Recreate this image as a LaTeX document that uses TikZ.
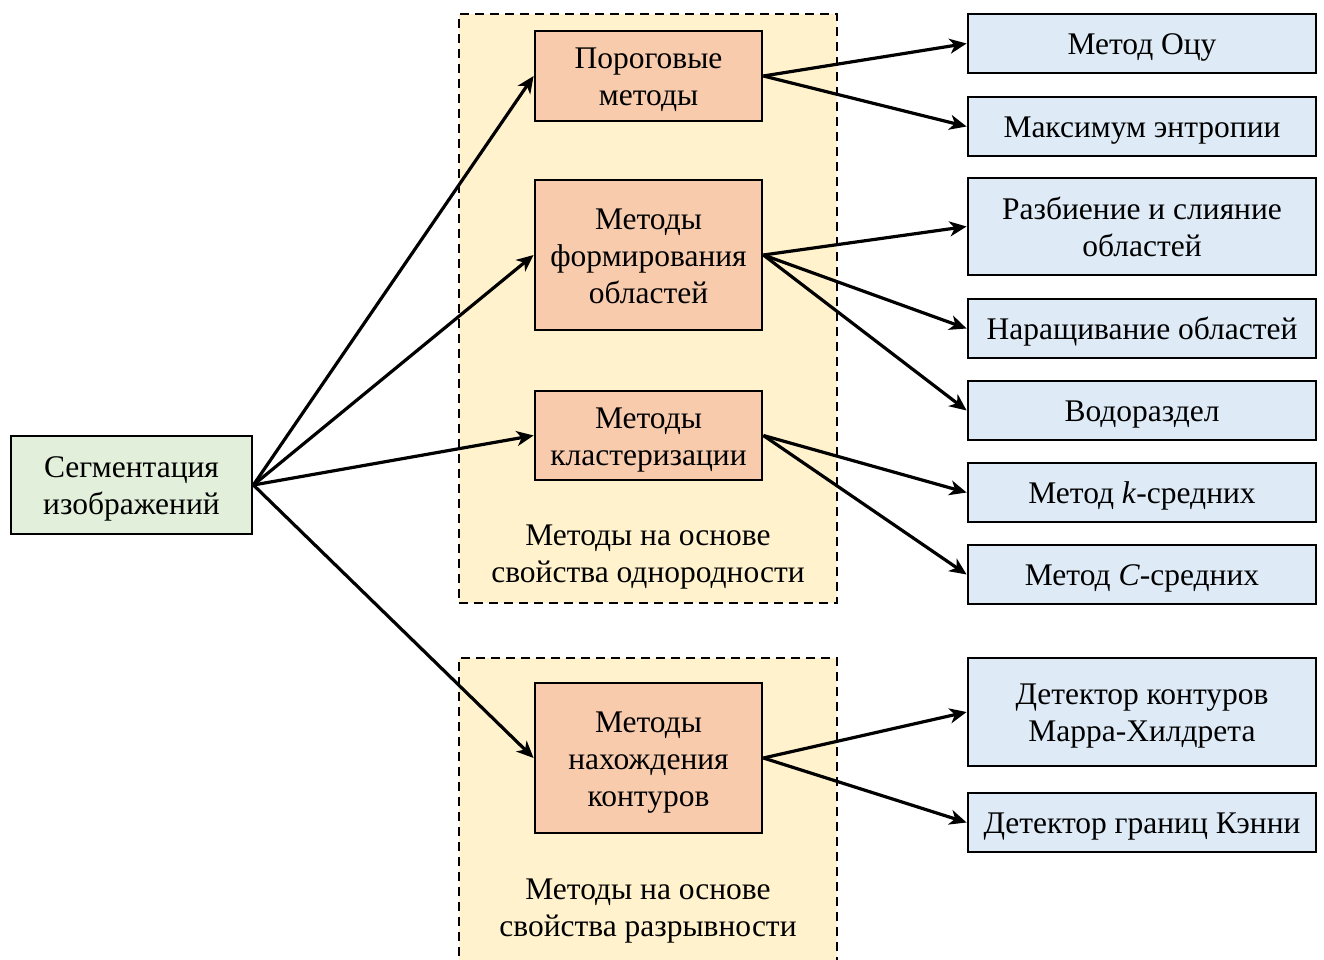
\documentclass[tikz,border=0pt]{standalone}
\usepackage{fontspec}
\setmainfont{Liberation Serif}
\usetikzlibrary{arrows.meta}
\definecolor{cgreen}{HTML}{E2EFDA}
\definecolor{corange}{HTML}{F8CBAD}
\definecolor{cblue}{HTML}{DEEBF7}
\definecolor{cyellow}{HTML}{FFF2CC}
\newcommand\tx[1]{\raisebox{-4pt}[\height][\depth]{\begin{tabular}{@{}c@{}}#1\end{tabular}}}
\begin{document}
\begin{tikzpicture}[x=1pt,y=-1pt,
  every node/.style={font=\fontsize{31.5}{37}\selectfont, align=center, inner sep=0pt},
  bx/.style={draw=black, line width=2.8pt, minimum width=#1},
  gbox/.style={bx=241pt, fill=cgreen},
  obox/.style={bx=227pt, fill=corange},
  bbox/.style={bx=348pt, fill=cblue},
  grp/.style={draw=black, line width=2.4pt, dash pattern=on 9pt off 6pt, fill=cyellow, minimum width=378pt},
  arr/.style={line width=3.2pt, -{Stealth[length=17pt,width=15pt,inset=5pt]}}
]
\useasboundingbox (0,0) rectangle (1324,960);
% groups
\node[grp, minimum height=589pt] (g1) at (648,308.5) {};
\node[grp, minimum height=320pt] (g2) at (648,818) {};
\node (l1) at (648,557) {Методы на основе\\свойства однородности};
\node (l2) at (648,911) {Методы на основе\\свойства разрывности};
% root
\node[gbox, minimum height=98pt] (root) at (131.5,485) {\tx{Сегментация\\изображений}};
% orange
\node[obox, minimum height=90pt] (o1) at (648.5,76) {\tx{Пороговые\\методы}};
\node[obox, minimum height=150pt] (o2) at (648.5,255) {\tx{Методы\\формирования\\областей}};
\node[obox, minimum height=89pt] (o3) at (648.5,435.5) {\tx{Методы\\кластеризации}};
\node[obox, minimum height=150pt] (o4) at (648.5,758) {\tx{Методы\\нахождения\\контуров}};
% blue
\node[bbox, minimum height=59pt] (b1) at (1142,43.5) {\tx{Метод Оцу}};
\node[bbox, minimum height=59pt] (b2) at (1142,126.5) {\tx{Максимум энтропии}};
\node[bbox, minimum height=97pt] (b3) at (1142,226.5) {\tx{Разбиение и слияние\\областей}};
\node[bbox, minimum height=59pt] (b4) at (1142,328.5) {\tx{Наращивание областей}};
\node[bbox, minimum height=59pt] (b5) at (1142,410.5) {\tx{Водораздел}};
\node[bbox, minimum height=59pt] (b6) at (1142,492.5) {\tx{Метод \textit{k}-средних}};
\node[bbox, minimum height=59pt] (b7) at (1142,574.5) {\tx{Метод \textit{C}-средних}};
\node[bbox, minimum height=108pt] (b8) at (1142,712) {\tx{Детектор контуров\\Марра-Хилдрета}};
\node[bbox, minimum height=59pt] (b9) at (1142,822.5) {\tx{Детектор границ Кэнни}};
% arrows
\foreach \t in {o1,o2,o3,o4} \draw[arr] (root.east) -- (\t.west);
\foreach \t in {b1,b2} \draw[arr] (o1.east) -- (\t.west);
\foreach \t in {b3,b4,b5} \draw[arr] (o2.east) -- (\t.west);
\foreach \t in {b6,b7} \draw[arr] (o3.east) -- (\t.west);
\foreach \t in {b8,b9} \draw[arr] (o4.east) -- (\t.west);
\end{tikzpicture}
\end{document}
